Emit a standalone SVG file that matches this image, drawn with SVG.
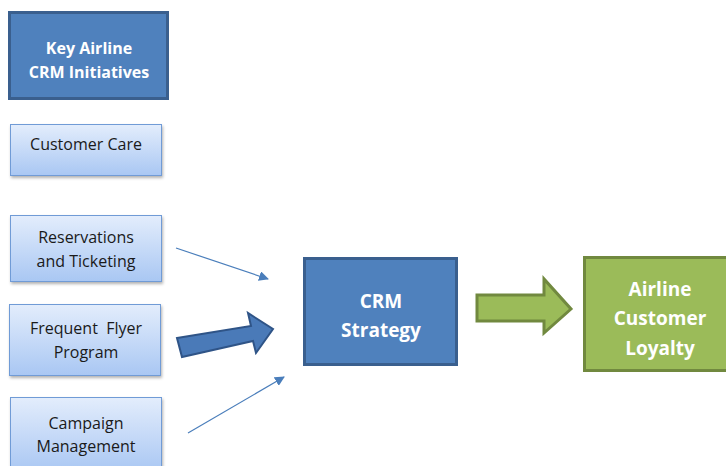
<svg xmlns="http://www.w3.org/2000/svg" width="726" height="466" viewBox="0 0 726 466">
<defs>
<linearGradient id="lg" x1="0" y1="0" x2="0" y2="1">
<stop offset="0" stop-color="#e3edfc"/>
<stop offset="1" stop-color="#a9c7f3"/>
</linearGradient>
<filter id="sh" x="-10%" y="-10%" width="120%" height="130%">
<feDropShadow dx="1" dy="2" stdDeviation="1.5" flood-color="#000" flood-opacity="0.3"/>
</filter>
<marker id="ah" viewBox="0 0 10 10" refX="9" refY="5" markerWidth="10" markerHeight="10" markerUnits="userSpaceOnUse" orient="auto">
<path d="M0,0 L10,5 L0,10 Z" fill="#4a7ebb"/>
</marker>
<style>
.lt{fill:url(#lg);stroke:#6f9bd6;stroke-width:1;filter:url(#sh)}
.dk{fill:#4f81bd;stroke:#3a5f8e;stroke-width:3}
.gr{fill:#9bbb59;stroke:#71893f;stroke-width:3}
.t{font-family:"Open Sans","Liberation Sans",sans-serif;font-size:16px;fill:#1a1a1a;text-anchor:middle;white-space:pre}
.w{font-family:"Open Sans","Liberation Sans",sans-serif;font-weight:bold;fill:#fff;text-anchor:middle}
</style>
</defs>
<rect width="726" height="466" fill="#fff"/>
<g id="key">
<rect class="dk" x="9.5" y="12.5" width="158" height="86"/>
<text class="w" font-size="16" x="89" y="54">Key Airline</text>
<text class="w" font-size="16" x="89" y="78">CRM Initiatives</text>
</g>
<g id="customer-care">
<rect class="lt" x="10.5" y="124.5" width="151" height="51"/>
<text class="t" x="86" y="150">Customer Care</text>
</g>
<g id="reservations">
<rect class="lt" x="10.5" y="215.5" width="151" height="66"/>
<text class="t" x="86" y="243">Reservations</text>
<text class="t" x="86" y="267">and Ticketing</text>
</g>
<g id="frequent-flyer">
<rect class="lt" x="9.5" y="304.5" width="151" height="71"/>
<text class="t" x="86" y="334" xml:space="preserve">Frequent  Flyer</text>
<text class="t" x="86" y="358">Program</text>
</g>
<g id="campaign">
<rect class="lt" x="10.5" y="397.5" width="151" height="75"/>
<text class="t" x="86" y="429">Campaign</text>
<text class="t" x="86" y="452">Management</text>
</g>
<g id="crm-strategy">
<rect class="dk" x="304.5" y="258.5" width="152" height="106"/>
<text class="w" font-size="19" x="381" y="308">CRM</text>
<text class="w" font-size="19" x="381" y="337">Strategy</text>
</g>
<g id="loyalty">
<rect class="gr" x="584.5" y="257.5" width="150" height="113"/>
<text class="w" font-size="19" x="660" y="296">Airline</text>
<text class="w" font-size="19" x="660" y="325">Customer</text>
<text class="w" font-size="19" x="660" y="355">Loyalty</text>
</g>
<g id="connectors">
<line x1="176" y1="248" x2="268" y2="279" stroke="#4a7ebb" stroke-width="1.2" marker-end="url(#ah)"/>
<line x1="188" y1="433" x2="284" y2="377" stroke="#4a7ebb" stroke-width="1.2" marker-end="url(#ah)"/>
<path d="M177,338 L251,326 L248,313 L273,329 L256,353 L253,341 L182,357 Z" fill="#4a7ab8" stroke="#2f5487" stroke-width="2" stroke-linejoin="miter"/>
<path d="M477,295 L544,295 L544,279 L571,309 L544,333 L544,321 L477,321 Z" fill="#9bbb59" stroke="#71893f" stroke-width="3"/>
</g>
</svg>
